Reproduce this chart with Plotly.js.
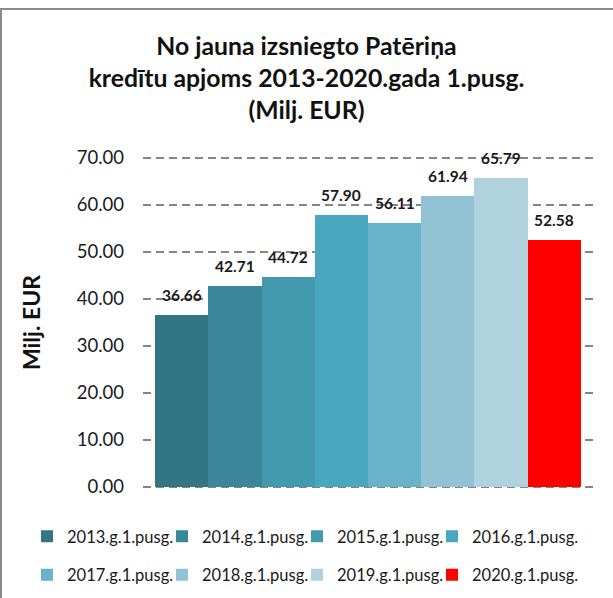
<!DOCTYPE html>
<html>
<head>
<meta charset="utf-8">
<script src="https://cdn.plot.ly/plotly-3.0.1.min.js"></script>
<style>
  html, body { margin: 0; padding: 0; background: #fff; }
  #frame { position: absolute; left: 0; top: 8px; width: 640px; height: 640px;
           border-left: 2px solid #8a8a8a; border-top: 2px solid #8a8a8a; box-sizing: border-box; pointer-events: none; }
  #chart { position: absolute; left: 0; top: 0; width: 613px; height: 598px; }
</style>
</head>
<body>
<div id="chart"></div>
<div id="frame"></div>
<script>
const categories = ['2013.g.1.pusg.', '2014.g.1.pusg.', '2015.g.1.pusg.', '2016.g.1.pusg.',
                    '2017.g.1.pusg.', '2018.g.1.pusg.', '2019.g.1.pusg.', '2020.g.1.pusg.'];
const values = [36.66, 42.71, 44.72, 57.90, 56.11, 61.94, 65.79, 52.58];
const colors = ['#327684', '#3b879a', '#4399ae', '#4aa7c0', '#68b3c9', '#92c3d4', '#afd2de', '#ff0000'];
const yTicks = [0, 10, 20, 30, 40, 50, 60, 70];

const FONT = 'Lato, "Open Sans", sans-serif';

const traces = categories.map((c, i) => ({
  type: 'bar',
  name: c,
  x: [c],
  y: [values[i]],
  marker: { color: colors[i], line: { width: 0 } },
  legend: i < 4 ? 'legend' : 'legend2',
  legendwidth: (i % 4 === 3) ? 112 : 90,
  hoverinfo: 'name+y'
}));

const annotations = categories.map((c, i) => ({
  x: c, y: values[i], xref: 'x', yref: 'y',
  text: values[i].toFixed(2),
  showarrow: false, yanchor: 'bottom', yshift: 9,
  font: { family: FONT, size: 15.5, color: '#1a1a1a', weight: 'bold' }
}));

// plot area: paper y=0 at 489px, height 333px
const legendCommon = {
  orientation: 'h', xref: 'paper', yref: 'paper',
  xanchor: 'left', yanchor: 'middle',
  x: (27 - 143) / 450,
  entrywidthmode: 'pixels',
  font: { family: FONT, size: 16.5, color: '#1a1a1a' },
  bgcolor: 'rgba(0,0,0,0)', traceorder: 'normal'
};

const layout = {
  width: 613, height: 598,
  margin: { l: 143, r: 20, t: 156, b: 109, pad: 0, autoexpand: false },
  paper_bgcolor: '#ffffff', plot_bgcolor: '#ffffff',
  title: {
    text: 'No jauna izsniegto Patēriņa<br>kredītu apjoms 2013-2020.gada 1.pusg.<br>(Milj. EUR)',
    x: 0.5, xref: 'container', xanchor: 'center',
    y: 1 - 55 / 598, yref: 'container', yanchor: 'top',
    font: { family: FONT, size: 24.75, color: '#111', weight: 'bold' }
  },
  barmode: 'overlay', bargap: 0,
  xaxis: {
    type: 'category', categoryorder: 'array', categoryarray: categories,
    range: [-0.73, 7.73], showticklabels: false, showgrid: false,
    zeroline: false, showline: false, ticks: '', fixedrange: true
  },
  yaxis: {
    range: [-0.4255, 70.4255], tickvals: yTicks, tickformat: '.2f',
    showgrid: true, gridcolor: '#858585', gridwidth: 1.7, griddash: '8px,5px',
    zeroline: false, showline: false, ticks: '', ticklabelstandoff: 18,
    tickfont: { family: FONT, size: 18.5, color: '#1a1a1a' },
    title: { text: 'Milj. EUR', standoff: 29, font: { family: FONT, size: 23, color: '#111', weight: 'bold' } },
    fixedrange: true
  },
  showlegend: true,
  legend: Object.assign({}, legendCommon, { y: (489 - 536.5) / 333 }),
  legend2: Object.assign({}, legendCommon, { y: (489 - 575) / 333 }),
  annotations: annotations
};

Plotly.newPlot('chart', traces, layout, { displayModeBar: false });
</script>
</body>
</html>
